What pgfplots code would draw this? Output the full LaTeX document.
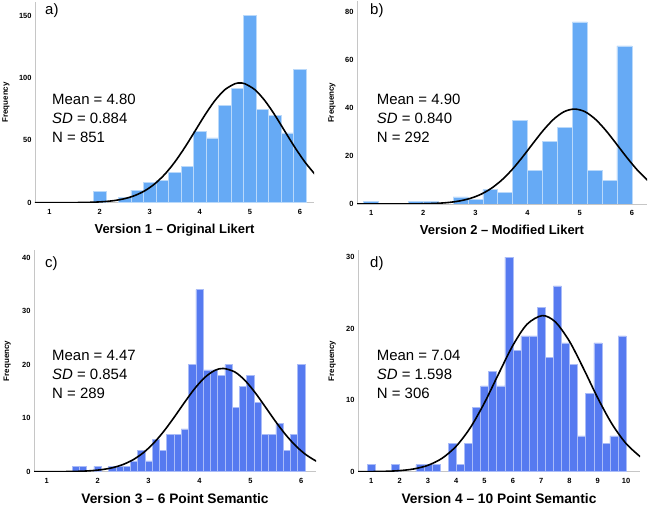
\documentclass[border=0pt]{standalone}
\usepackage{pgfplots}
\pgfplotsset{compat=1.18}
\usepackage{fontspec}
\setmainfont{Liberation Sans}
\definecolor{barA}{RGB}{102,170,245}
\definecolor{barC}{RGB}{86,122,240}
\pgfplotsset{
 hist/.style={
   scale only axis,
   axis lines*=left,
   axis line style={draw=gray!45, line width=0.8pt},
   ymin=0,
   major tick length=0pt,
   tick style={draw=none},
   /pgf/number format/assume math mode=true,
   ticklabel style={font=\fontsize{7.5}{9}\selectfont\bfseries},
   xticklabel style={yshift=-3bp},
   ylabel=Frequency,
 },
 ylab/.style={every axis y label/.style={at={(rel axis cs:0,0.5)}, xshift=#1, rotate=90, anchor=center, font=\fontsize{8}{9}\selectfont\bfseries}},
 xlab/.style 2 args={every axis x label/.style={at={(rel axis cs:0.5,0)}, yshift=#1, anchor=center, font=\fontsize{#2}{15}\selectfont\bfseries}},
 barsA/.style={ybar, bar shift=0pt, bar width=#1, fill=barA, draw=white!55!barA, line width=0.6pt},
 barsC/.style={ybar, bar shift=0pt, bar width=#1, fill=barC, draw=white!50!barC, line width=0.5pt},
 curve/.style={black, line width=1.6pt, smooth, no marks},
}
\begin{document}
\begin{tikzpicture}
\useasboundingbox (0bp,0bp) rectangle (649bp,507bp);

% ---------- a) ----------
\begin{axis}[hist, at={(35bp,304.3bp)}, anchor=south west, width=279bp, height=200.7bp,
  xmin=0.71, xmax=6.28, ymax=161, xtick={1,...,6}, ytick={0,50,100,150},
  ylab=-29bp, xlab={-27.3bp}{13},
  xlabel={Version 1 – Original Likert}]
\addplot[barsA=0.25] coordinates {
 (2.0,9) (2.5,4) (2.75,10) (3.0,16) (3.25,18) (3.5,24) (3.75,29) (4.0,57) (4.25,52)
 (4.5,78) (4.75,92) (5.0,150) (5.25,75) (5.5,70) (5.75,56) (6.0,107)};
\addplot[curve] coordinates {
 (0.7,0.002) (0.9,0.006) (1.1,0.015) (1.3,0.038) (1.5,0.090) (1.7,0.205) (1.9,0.442)
 (2.1,0.905) (2.3,1.76) (2.5,3.25) (2.7,5.71) (2.9,9.53) (3.1,15.11) (3.3,22.75)
 (3.5,32.56) (3.7,44.27) (3.9,57.17) (4.1,70.17) (4.3,81.81) (4.5,90.63) (4.7,95.40)
 (4.8,96.01) (4.9,95.40) (5.1,90.63) (5.3,81.81) (5.5,70.17) (5.7,57.17) (5.9,44.27)
 (6.1,32.56) (6.3,22.75)};
\end{axis}

% ---------- b) ----------
\begin{axis}[hist, at={(357bp,303bp)}, anchor=south west, width=290bp, height=202.5bp,
  xmin=0.73, xmax=6.29, ymax=84.5, xtick={1,...,6}, ytick={0,20,40,60,80},
  ylab=-25bp, xlab={-26bp}{13},
  xlabel={Version 2 – Modified Likert}]
\addplot[barsA=0.2857] coordinates {
 (1.0,1) (1.857,1) (2.143,1) (2.714,3) (3.0,2) (3.286,6) (3.571,5) (3.857,35)
 (4.143,14) (4.429,26) (4.714,32) (5.0,76) (5.286,14) (5.571,10) (5.857,66)};
\addplot[curve] coordinates {
 (0.7,0.0001) (0.9,0.0005) (1.1,0.0014) (1.3,0.004) (1.5,0.011) (1.7,0.028) (1.9,0.067)
 (2.1,0.153) (2.3,0.329) (2.5,0.669) (2.7,1.284) (2.9,2.329) (3.1,3.99) (3.3,6.46)
 (3.5,9.88) (3.7,14.28) (3.9,19.51) (4.1,25.17) (4.3,30.70) (4.5,35.37) (4.7,38.52)
 (4.9,39.62) (5.1,38.52) (5.3,35.37) (5.5,30.70) (5.7,25.17) (5.9,19.51) (6.1,14.28)
 (6.3,9.88)};
\end{axis}

% ---------- c) ----------
\begin{axis}[hist, at={(34bp,35.3bp)}, anchor=south west, width=282bp, height=221.7bp,
  xmin=0.75, xmax=6.29, ymax=41.4, xtick={1,...,6}, ytick={0,10,20,30,40},
  ylab=-26.7bp, xlab={-26.6bp}{13.8},
  xlabel={Version 3 – 6 Point Semantic}]
\addplot[barsC=0.142857] coordinates {
 (1.571,1) (1.714,1) (2.0,1) (2.286,1) (2.429,1) (2.571,1) (2.714,2) (2.857,4)
 (3.0,2) (3.143,6) (3.286,4) (3.429,7) (3.571,7) (3.714,8) (3.857,20) (4.0,34)
 (4.143,19) (4.286,19) (4.429,18) (4.571,20) (4.714,12) (4.857,16) (5.0,18)
 (5.143,13) (5.286,7) (5.429,7) (5.571,9) (5.714,4) (5.857,7) (6.0,20)};
\addplot[curve] coordinates {
 (0.7,0.001) (0.9,0.003) (1.1,0.008) (1.3,0.020) (1.5,0.046) (1.7,0.100) (1.9,0.208)
 (2.1,0.410) (2.3,0.764) (2.5,1.348) (2.7,2.252) (2.9,3.559) (3.1,5.326) (3.3,7.545)
 (3.5,10.118) (3.7,12.843) (3.9,15.435) (4.1,17.558) (4.3,18.908) (4.47,19.286)
 (4.7,18.599) (4.9,16.990) (5.1,14.692) (5.3,12.026) (5.5,9.319) (5.7,6.836)
 (5.9,4.747) (6.1,3.120) (6.3,1.941)};
\end{axis}

% ---------- d) ----------
\begin{axis}[hist, at={(358bp,35.3bp)}, anchor=south west, width=282bp, height=221.7bp,
  xmin=0.53, xmax=10.49, ymax=31, xtick={1,...,10}, ytick={0,10,20,30},
  ylab=-25.7bp, xlab={-26.6bp}{13.8},
  xlabel={Version 4 – 10 Point Semantic}]
\addplot[barsC=0.2857] coordinates {
 (1.0,1) (1.857,1) (2.714,1) (3.0,1) (3.286,1) (3.857,4) (4.143,1) (4.429,4)
 (4.714,9) (5.0,12) (5.286,14) (5.571,12) (5.857,30) (6.143,17) (6.429,19)
 (6.714,19) (7.0,23) (7.286,16) (7.571,26) (7.857,18) (8.143,15) (8.429,5)
 (8.714,11) (9.0,18) (9.286,4) (9.571,5) (9.857,19)};
\addplot[curve] coordinates {
 (0.5,0.005) (1.0,0.017) (1.5,0.054) (2.0,0.151) (2.5,0.386) (3.0,0.894) (3.5,1.877)
 (4.0,3.575) (4.5,6.172) (5.0,9.663) (5.5,13.720) (6.0,17.662) (6.5,20.616)
 (7.04,21.827) (7.5,20.941) (8.0,18.223) (8.5,14.379) (9.0,10.288) (9.5,6.674)
 (10.0,3.927) (10.5,2.094)};
\end{axis}

% ---------- annotations ----------
\begin{scope}[every node/.style={anchor=base west, inner sep=0pt, font=\fontsize{15}{18}\selectfont}]
\node at (45bp,492bp) {a)};
\node at (370bp,492bp) {b)};
\node at (45bp,239.5bp) {c)};
\node at (370bp,239.5bp) {d)};
\node at (52bp,402.7bp) {Mean = 4.80};
\node at (52bp,383bp) {\textit{SD} = 0.884};
\node at (52bp,364.3bp) {N = 851};
\node at (376.7bp,402.7bp) {Mean = 4.90};
\node at (376.7bp,383bp) {\textit{SD} = 0.840};
\node at (376.7bp,364.3bp) {N = 292};
\node at (52bp,146bp) {Mean = 4.47};
\node at (52bp,127bp) {\textit{SD} = 0.854};
\node at (52bp,108.7bp) {N = 289};
\node at (376.7bp,146bp) {Mean = 7.04};
\node at (376.7bp,127bp) {\textit{SD} = 1.598};
\node at (376.7bp,108.7bp) {N = 306};
\end{scope}
\end{tikzpicture}
\end{document}
